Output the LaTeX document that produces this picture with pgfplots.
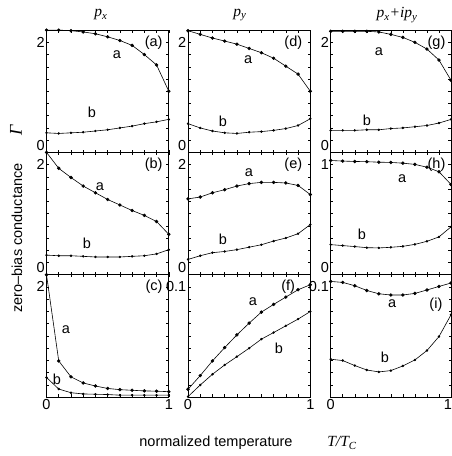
\documentclass[border=0pt]{standalone}
\usepackage{fontspec}
\setmainfont{Liberation Sans}
\newfontfamily\tms{Liberation Serif}
\usepackage{pgfplots}
\pgfplotsset{compat=1.18}
\newcommand\lo[1]{\raisebox{7pt}[\height][\depth]{#1}}
\newcommand\hi[1]{\raisebox{-12pt}[\height][\depth]{#1}}
\pgfplotsset{
  panel/.style={scale only axis, width=122.3pt, height=122.3pt, anchor=south west,
    xmin=0, xmax=1, xtick={0,1}, minor x tick num=9, minor y tick num=9,
    tick align=inside, major tick length=2.5pt, minor tick length=2.5pt,
    tick style={black, line width=0.5pt}, axis line style={line width=0.8pt},
    xticklabels={,,}, clip=false,
    yticklabel style={inner xsep=1.5pt},
    xticklabel style={inner ysep=2pt},
    every axis plot/.append style={black, line width=0.6pt},
    /pgf/number format/assume math mode=true},
  ca/.style={mark=*, mark size=1.4pt},
  cb/.style={mark=*, mark size=0.9pt},
}
\begin{document}
\fontsize{14.5pt}{16pt}\selectfont
\begin{tikzpicture}
\path[use as bounding box] (0,0) rectangle (451pt,456pt);
% ---- row 1
\begin{axis}[panel, at={(46.5pt,303.6pt)}, ymin=0, ymax=2, ytick={0,2}, yticklabels={\lo{0},\hi{2}}]
\addplot[ca] coordinates {(0,2.0)(0.1,2.0)(0.2,1.99)(0.3,1.97)(0.4,1.94)(0.5,1.89)(0.6,1.83)(0.7,1.75)(0.8,1.60)(0.9,1.43)(1,1.0)};
\addplot[cb] coordinates {(0,0.32)(0.1,0.31)(0.2,0.32)(0.3,0.33)(0.4,0.35)(0.5,0.37)(0.6,0.40)(0.7,0.43)(0.8,0.47)(0.9,0.50)(1,0.54)};
\node at (rel axis cs:0.576,0.796) {a};
\node at (rel axis cs:0.372,0.330) {b};
\node[anchor=east] at (rel axis cs:0.99,0.895) {(a)};
\end{axis}
\begin{axis}[panel, at={(188pt,303.6pt)}, ymin=0, ymax=2, ytick={0,2}, yticklabels={\lo{0},\hi{2}}]
\addplot[ca] coordinates {(0,1.99)(0.1,1.93)(0.2,1.87)(0.3,1.82)(0.4,1.77)(0.5,1.70)(0.6,1.63)(0.7,1.54)(0.8,1.41)(0.9,1.28)(1,1.0)};
\addplot[cb] coordinates {(0,0.47)(0.1,0.40)(0.2,0.35)(0.3,0.32)(0.4,0.31)(0.5,0.33)(0.6,0.34)(0.7,0.36)(0.8,0.39)(0.9,0.44)(1,0.55)};
\node at (rel axis cs:0.491,0.756) {a};
\node at (rel axis cs:0.286,0.257) {b};
\node[anchor=east] at (rel axis cs:0.975,0.895) {(d)};
\end{axis}
\begin{axis}[panel, width=120.3pt, at={(330.7pt,303.6pt)}, ymin=0, ymax=2, ytick={0,2}, yticklabels={\lo{0},\hi{2}}]
\addplot[ca] coordinates {(0,1.98)(0.1,1.98)(0.2,1.98)(0.3,1.98)(0.4,1.97)(0.5,1.93)(0.6,1.88)(0.7,1.80)(0.8,1.69)(0.9,1.51)(1,1.18)};
\addplot[cb] coordinates {(0,0.36)(0.1,0.36)(0.2,0.36)(0.3,0.37)(0.4,0.37)(0.5,0.39)(0.6,0.40)(0.7,0.42)(0.8,0.44)(0.9,0.48)(1,0.54)};
\node at (rel axis cs:0.40,0.821) {a};
\node at (rel axis cs:0.30,0.265) {b};
\node[anchor=east] at (rel axis cs:0.995,0.895) {(g)};
\end{axis}
% ---- row 2
\begin{axis}[panel, at={(46.5pt,181.3pt)}, ymin=0, ymax=2, ytick={0,2}, yticklabels={\lo{0},\hi{2}}]
\addplot[ca] coordinates {(0,2.0)(0.1,1.74)(0.2,1.59)(0.3,1.45)(0.4,1.34)(0.5,1.23)(0.6,1.14)(0.7,1.05)(0.8,0.97)(0.9,0.87)(1,0.66)};
\addplot[cb] coordinates {(0,0.32)(0.1,0.31)(0.2,0.31)(0.3,0.30)(0.4,0.29)(0.5,0.29)(0.6,0.29)(0.7,0.30)(0.8,0.31)(0.9,0.34)(1,0.41)};
\node at (rel axis cs:0.437,0.717) {a};
\node at (rel axis cs:0.331,0.259) {b};
\node[anchor=east] at (rel axis cs:0.99,0.897) {(b)};
\end{axis}
\begin{axis}[panel, at={(188pt,181.3pt)}, ymin=0, ymax=2, ytick={0,2}, yticklabels={\lo{0},\hi{2}}]
\addplot[ca] coordinates {(0,1.24)(0.1,1.27)(0.2,1.34)(0.3,1.39)(0.4,1.45)(0.5,1.49)(0.6,1.51)(0.7,1.51)(0.8,1.50)(0.9,1.46)(1,1.31)};
\addplot[cb] coordinates {(0,0.25)(0.1,0.31)(0.2,0.36)(0.3,0.38)(0.4,0.41)(0.5,0.45)(0.6,0.49)(0.7,0.55)(0.8,0.60)(0.9,0.67)(1,0.82)};
\node at (rel axis cs:0.499,0.832) {a};
\node at (rel axis cs:0.286,0.292) {b};
\node[anchor=east] at (rel axis cs:0.975,0.897) {(e)};
\end{axis}
\begin{axis}[panel, width=120.3pt, at={(330.7pt,181.3pt)}, ymin=0, ymax=1, ytick={0,1}, yticklabels={\lo{0},\hi{1}}]
\addplot[ca] coordinates {(0,0.934)(0.1,0.929)(0.2,0.926)(0.3,0.924)(0.4,0.920)(0.5,0.918)(0.6,0.912)(0.7,0.902)(0.8,0.879)(0.9,0.842)(1,0.738)};
\addplot[cb] coordinates {(0,0.246)(0.1,0.238)(0.2,0.230)(0.3,0.221)(0.4,0.219)(0.5,0.224)(0.6,0.232)(0.7,0.248)(0.8,0.273)(0.9,0.309)(1,0.391)};
\node at (rel axis cs:0.593,0.782) {a};
\node at (rel axis cs:0.26,0.333) {b};
\node[anchor=east] at (rel axis cs:0.995,0.897) {(h)};
\end{axis}
% ---- row 3
\begin{axis}[panel, at={(46.5pt,59pt)}, ymin=0, ymax=2, ytick={0,2}, yticklabels={,\hi{2}}, xticklabels={0,1}]
\addplot[ca] coordinates {(0,2.0)(0.1,0.59)(0.2,0.33)(0.3,0.23)(0.4,0.18)(0.5,0.14)(0.6,0.12)(0.7,0.11)(0.8,0.10)(0.9,0.095)(1,0.087)};
\addplot[cb] coordinates {(0,0.32)(0.1,0.13)(0.2,0.07)(0.3,0.05)(0.4,0.045)(0.5,0.04)(0.6,0.03)(0.7,0.03)(0.8,0.03)(0.9,0.03)(1,0.03)};
\node at (rel axis cs:0.159,0.548) {a};
\node at (rel axis cs:0.086,0.147) {b};
\node[anchor=east] at (rel axis cs:0.99,0.90) {(c)};
\end{axis}
\begin{axis}[panel, at={(188pt,59pt)}, ymin=0, ymax=0.1, ytick={0,0.1}, yticklabels={,\hi{0.1}}, xticklabels={0,1}]
\addplot[ca] coordinates {(0,0.0063)(0.1,0.0175)(0.2,0.0295)(0.3,0.0404)(0.4,0.0508)(0.5,0.0604)(0.6,0.0694)(0.7,0.0757)(0.8,0.0817)(0.9,0.0877)(1,0.0918)};
\addplot[cb] coordinates {(0,0.0003)(0.1,0.0098)(0.2,0.0186)(0.3,0.0262)(0.4,0.0330)(0.5,0.0399)(0.6,0.0473)(0.7,0.0527)(0.8,0.0582)(0.9,0.0637)(1,0.0699)};
\node at (rel axis cs:0.531,0.782) {a};
\node at (rel axis cs:0.744,0.40) {b};
\node[anchor=east] at (rel axis cs:0.916,0.90) {(f)};
\end{axis}
\begin{axis}[panel, width=120.3pt, at={(330.7pt,59pt)}, ymin=0, ymax=0.1, ytick={0,0.1}, yticklabels={,\hi{0.1}}, xticklabels={0,\llap{1\kern-1pt}}]
\addplot[ca] coordinates {(0,0.0945)(0.1,0.0937)(0.2,0.0910)(0.3,0.0871)(0.4,0.0844)(0.5,0.0834)(0.6,0.0834)(0.7,0.0847)(0.8,0.0875)(0.9,0.0904)(1,0.0932)};
\addplot[cb] coordinates {(0,0.0309)(0.1,0.0298)(0.2,0.0257)(0.3,0.0221)(0.4,0.0205)(0.5,0.0216)(0.6,0.0254)(0.7,0.0303)(0.8,0.0380)(0.9,0.0494)(1,0.0672)};
\node at (rel axis cs:0.51,0.76) {a};
\node at (rel axis cs:0.45,0.327) {b};
\node[anchor=east] at (rel axis cs:0.97,0.752) {(i)};
\end{axis}
% ---- titles and labels
\node at (101pt,441pt) {\tms\fontsize{15.5pt}{17pt}\selectfont\itshape p\textsubscript{x}};
\node at (240pt,441pt) {\tms\fontsize{15.5pt}{17pt}\selectfont\itshape p\textsubscript{y}};
\node at (397pt,441pt) {\tms\fontsize{15.5pt}{17pt}\selectfont\itshape p\textsubscript{x}+ip\textsubscript{y}};
\node[rotate=90] at (16pt,326pt) {\tms\fontsize{18pt}{20pt}\selectfont\itshape Γ};
\node[rotate=90] at (17pt,218pt) {zero–bias conductance};
\node at (216pt,13pt) {normalized temperature};
\node at (342pt,13pt) {\tms\fontsize{15.5pt}{17pt}\selectfont\itshape T/T\textsubscript{C}};
\end{tikzpicture}
\end{document}
